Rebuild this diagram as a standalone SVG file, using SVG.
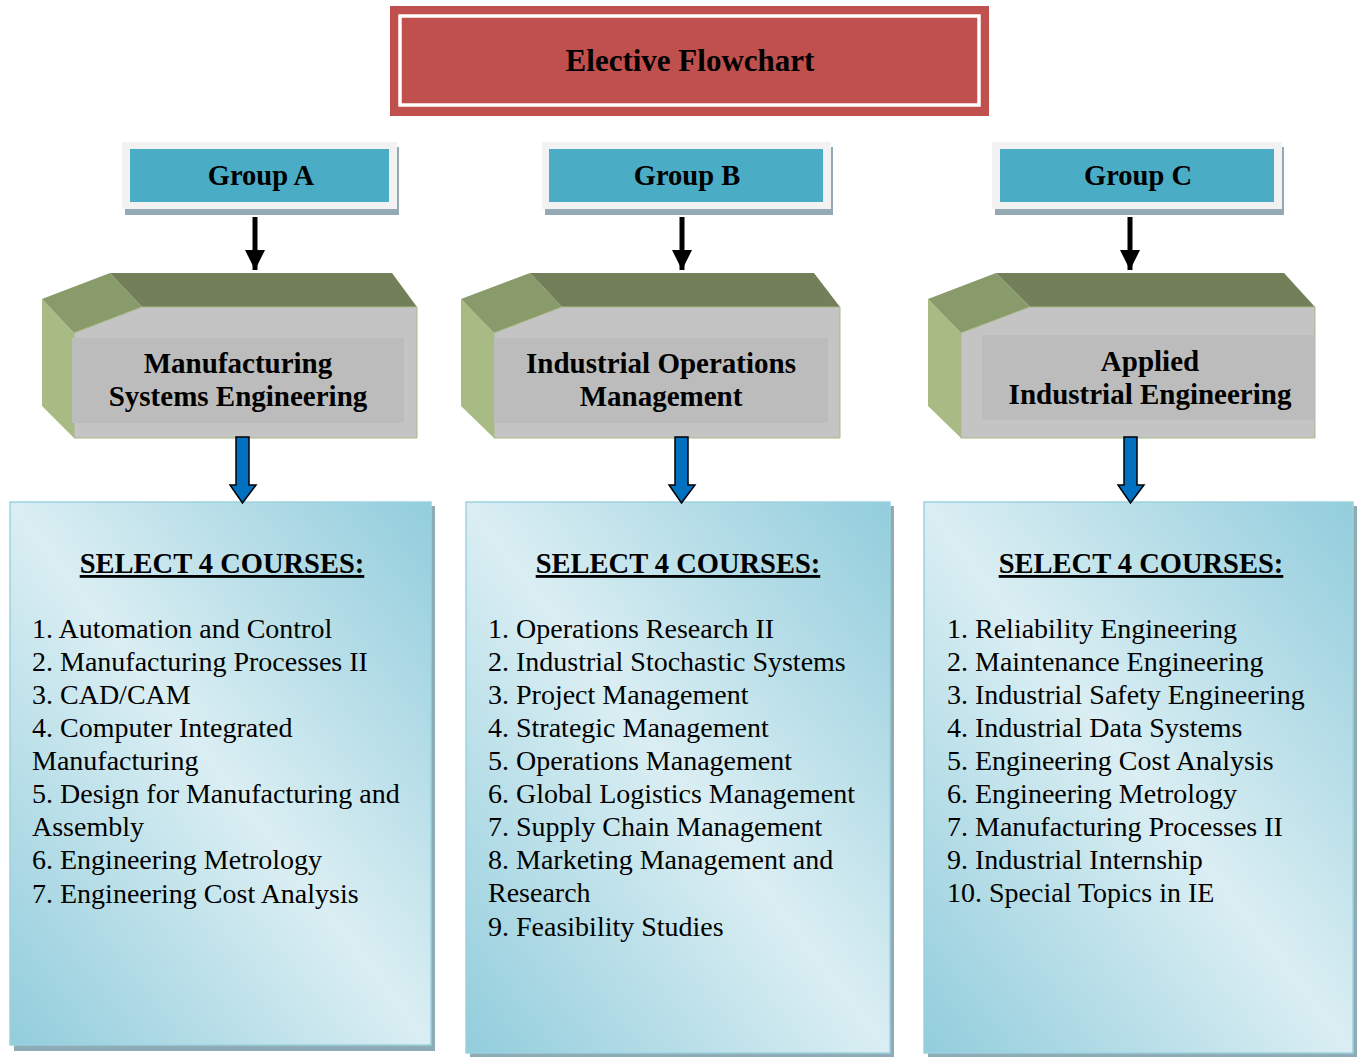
<svg xmlns="http://www.w3.org/2000/svg" width="1362" height="1057" viewBox="0 0 1362 1057">
<defs>
<linearGradient id="lg" x1="1" y1="0" x2="0" y2="1">
<stop offset="0" stop-color="#92cddc"/>
<stop offset="0.5" stop-color="#daeef3"/>
<stop offset="1" stop-color="#92cddc"/>
</linearGradient>
<marker id="ah" viewBox="0 0 10 10" refX="10" refY="5" markerWidth="4" markerHeight="4" orient="auto" markerUnits="strokeWidth">
<path d="M0,0 L10,5 L0,10 z" fill="#000"/>
</marker>
</defs>
<style>
text{font-family:"Liberation Serif","Times New Roman",serif;fill:#000}
.ttl{font-size:31px;font-weight:bold}
.grp{font-size:28.5px;font-weight:bold}
.hd{font-size:29px;font-weight:bold}
.sel{font-size:28.5px;font-weight:bold;text-decoration:underline}
.li{font-size:28px}
.gshadow{fill:#94a9b3}
.gouter{fill:#f2f2f2}
.ginner{fill:#4bacc6}
.lf{fill:#a9bb84}
.wd{fill:#899a6b}
.tp{fill:#737f59}
.fr{fill:#c4c4c4;stroke:#a9b98a;stroke-width:1}
.in{fill:#bcbcbc}
.lshadow{fill:#8fabb6}
.lbox{fill:url(#lg);stroke:#9dd2df;stroke-width:1.5}
.blk{stroke:#000;stroke-width:5;fill:none;marker-end:url(#ah)}
.blu{fill:#0070c0;stroke:#000;stroke-width:1.5}
</style>

<g id="title">
<rect x="390" y="6" width="599" height="110" fill="#c0504d"/>
<rect x="400" y="16" width="579" height="89" fill="none" stroke="#fff" stroke-width="3.5"/>
<text class="ttl" x="690" y="71" text-anchor="middle">Elective Flowchart</text>
</g>

<g id="groupA">
<rect class="gshadow" x="125" y="147" width="274" height="68"/>
<rect class="gouter" x="122" y="142" width="275" height="67"/>
<rect class="ginner" x="130" y="149" width="259" height="53"/>
<text class="grp" x="261" y="185" text-anchor="middle">Group A</text>
</g>
<g id="groupB">
<rect class="gshadow" x="545" y="147" width="288" height="68"/>
<rect class="gouter" x="542" y="142" width="289" height="67"/>
<rect class="ginner" x="549" y="149" width="274" height="53"/>
<text class="grp" x="687" y="185" text-anchor="middle">Group B</text>
</g>
<g id="groupC">
<rect class="gshadow" x="995" y="147" width="289" height="68"/>
<rect class="gouter" x="992" y="142" width="290" height="67"/>
<rect class="ginner" x="1000" y="149" width="274" height="53"/>
<text class="grp" x="1138" y="185" text-anchor="middle">Group C</text>
</g>

<g id="trackA">
<polygon class="lf" points="42,299 74,333 74,438 42,406"/>
<polygon class="wd" points="42,299 110,273 142,307 74,333"/>
<polygon class="tp" points="110,273 392,273 417,307 142,307"/>
<polygon class="fr" points="74,333 142,307 417,307 417,438 74,438"/>
<rect class="in" x="72" y="338" width="332" height="85"/>
<text class="hd" x="238" y="373" text-anchor="middle">Manufacturing</text>
<text class="hd" x="238" y="406" text-anchor="middle">Systems Engineering</text>
</g>
<g id="trackB">
<polygon class="lf" points="461,299 494,333 494,438 461,406"/>
<polygon class="wd" points="461,299 530,273 562,307 494,333"/>
<polygon class="tp" points="530,273 814,273 840,307 562,307"/>
<polygon class="fr" points="494,333 562,307 840,307 840,438 494,438"/>
<rect class="in" x="494" y="338" width="334" height="85"/>
<text class="hd" x="661" y="373" text-anchor="middle">Industrial Operations</text>
<text class="hd" x="661" y="406" text-anchor="middle">Management</text>
</g>
<g id="trackC">
<polygon class="lf" points="928,299 961,333 961,438 928,406"/>
<polygon class="wd" points="928,299 996,273 1030,307 961,333"/>
<polygon class="tp" points="996,273 1284,273 1315,307 1030,307"/>
<polygon class="fr" points="961,333 1030,307 1315,307 1315,438 961,438"/>
<rect class="in" x="982" y="335" width="333" height="85"/>
<text class="hd" x="1150" y="371" text-anchor="middle">Applied</text>
<text class="hd" x="1150" y="404" text-anchor="middle">Industrial Engineering</text>
</g>

<g id="listA">
<rect class="lshadow" x="14" y="506" width="421" height="545"/>
<rect class="lbox" x="10" y="502" width="421" height="543"/>
<text class="sel" x="222" y="573" text-anchor="middle">SELECT 4 COURSES:</text>
<text class="li" x="32" y="638">1. Automation and Control</text>
<text class="li" x="32" y="671">2. Manufacturing Processes II</text>
<text class="li" x="32" y="704">3. CAD/CAM</text>
<text class="li" x="32" y="737">4. Computer Integrated</text>
<text class="li" x="32" y="770">Manufacturing</text>
<text class="li" x="32" y="803">5. Design for Manufacturing and</text>
<text class="li" x="32" y="836">Assembly</text>
<text class="li" x="32" y="869">6. Engineering Metrology</text>
<text class="li" x="32" y="903">7. Engineering Cost Analysis</text>
</g>
<g id="listB">
<rect class="lshadow" x="470" y="506" width="424" height="553"/>
<rect class="lbox" x="466" y="502" width="424" height="551"/>
<text class="sel" x="678" y="573" text-anchor="middle">SELECT 4 COURSES:</text>
<text class="li" x="488" y="638">1. Operations Research II</text>
<text class="li" x="488" y="671">2. Industrial Stochastic Systems</text>
<text class="li" x="488" y="704">3. Project Management</text>
<text class="li" x="488" y="737">4. Strategic Management</text>
<text class="li" x="488" y="770">5. Operations Management</text>
<text class="li" x="488" y="803">6. Global Logistics Management</text>
<text class="li" x="488" y="836">7. Supply Chain Management</text>
<text class="li" x="488" y="869">8. Marketing Management and</text>
<text class="li" x="488" y="902">Research</text>
<text class="li" x="488" y="936">9. Feasibility Studies</text>
</g>
<g id="listC">
<rect class="lshadow" x="928" y="506" width="429" height="553"/>
<rect class="lbox" x="924" y="502" width="429" height="551"/>
<text class="sel" x="1141" y="573" text-anchor="middle">SELECT 4 COURSES:</text>
<text class="li" x="947" y="638">1. Reliability Engineering</text>
<text class="li" x="947" y="671">2. Maintenance Engineering</text>
<text class="li" x="947" y="704">3. Industrial Safety Engineering</text>
<text class="li" x="947" y="737">4. Industrial Data Systems</text>
<text class="li" x="947" y="770">5. Engineering Cost Analysis</text>
<text class="li" x="947" y="803">6. Engineering Metrology</text>
<text class="li" x="947" y="836">7. Manufacturing Processes II</text>
<text class="li" x="947" y="869">9. Industrial Internship</text>
<text class="li" x="947" y="902">10. Special Topics in IE</text>
</g>

<g id="connectors">
<line class="blk" x1="255" y1="217" x2="255" y2="270"/>
<line class="blk" x1="682" y1="217" x2="682" y2="270"/>
<line class="blk" x1="1130" y1="217" x2="1130" y2="270"/>
<polygon class="blu" points="236,437 249,437 249,485 256,485 242.5,503 230,485 236,485"/>
<polygon class="blu" points="675,437 688,437 688,485 695,485 681.5,503 669,485 675,485"/>
<polygon class="blu" points="1124,437 1137,437 1137,485 1144,485 1130.5,503 1118,485 1124,485"/>
</g>
</svg>
